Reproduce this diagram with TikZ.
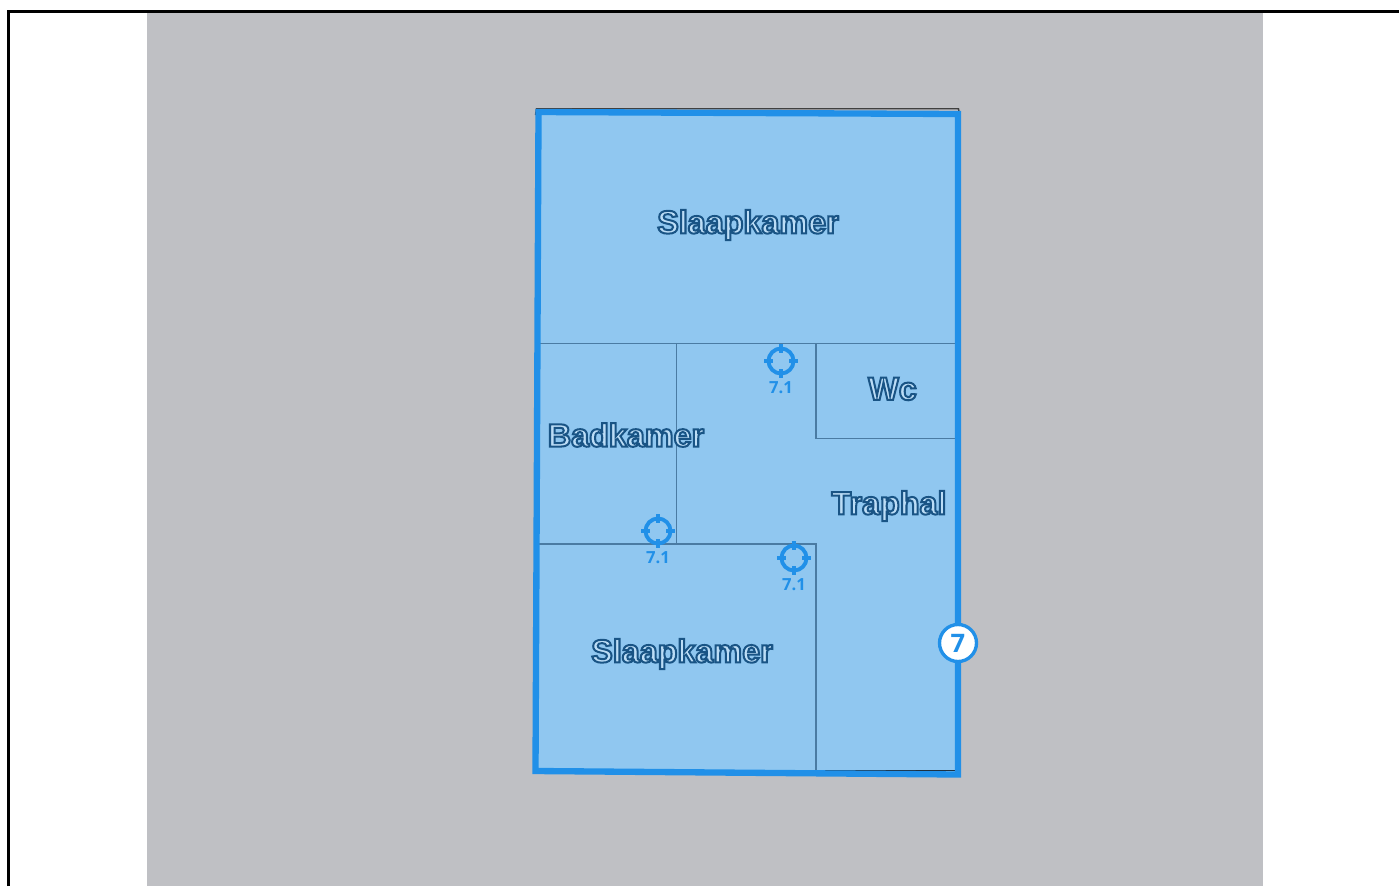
\documentclass[tikz,border=0pt]{standalone}
\usepackage{fontspec}
\setmainfont{Liberation Sans}
\newfontfamily\badgefont{Open Sans}
\usetikzlibrary{calc}
\definecolor{sheetgray}{HTML}{BFC0C4}
\definecolor{floorblue}{HTML}{90C7F0}
\definecolor{edgeblue}{HTML}{2190E8}
\definecolor{wallblue}{HTML}{4A7BA3}
\newcommand{\outlined}[1]{\special{pdf:code q 2 Tr 1.15 w 0.10 0.33 0.52 RG}#1\special{pdf:code Q}}
\tikzset{
  wall/.style={draw=wallblue,line width=0.65pt},
  roomlabel/.style={font=\fontsize{18.4}{20}\selectfont\bfseries,text=floorblue!60!white,inner sep=0pt},
  marklabel/.style={font=\badgefont\fontsize{9.5}{10}\selectfont\bfseries,text=edgeblue,inner sep=0pt}
}
\begin{document}
\begin{tikzpicture}[x=0.02cm,y=-0.02cm]
      \useasboundingbox (0,0) rectangle (1399,886);

      \fill[sheetgray] (147,12) rectangle (1263,886);
      \draw[black,line width=1.7pt] (8.5,886) -- (8.5,11.5) -- (1399,11.5);

      \draw[black!75,line width=0.8pt] (535.5,115) -- (536.5,108.7) -- (958.5,108.7) -- (959.5,115);
      \fill[floorblue] (538.5,111.5) -- (958,114) -- (958,774.5) -- (535.5,771) -- cycle;

      \draw[wall] (539,343.5) -- (956,343.5);
      \draw[wall] (676.5,343.5) -- (676.5,544);
      \draw[wall] (538,544) -- (816,544) -- (816,771);
      \draw[wall] (816,343.5) -- (816,438.5) -- (956,438.5);
      \draw[black!60!wallblue,line width=0.8pt] (816,770.5) -- (956,770.5);

      \draw[edgeblue,line width=3.6pt,line join=miter] (538.5,112) -- (958,114) -- (958,774.5) -- (535.5,771) -- cycle;

      \node[roomlabel] (topbed) at (748,225) {\outlined{Slaapkamer}};
      \node[roomlabel] (bath) at (626,435) {\outlined{Badkamer}};
      \node[roomlabel] (toilet) at (892.5,389) {\outlined{Wc}};
      \node[roomlabel] (hall) at (889,506) {\outlined{Traphal}};
      \node[roomlabel] (lowbed) at (682,654) {\outlined{Slaapkamer}};

      \foreach \name/\px/\py in {one/781/361,two/658/531,three/794/558} {
        \draw[edgeblue,line width=2.2pt] (\px,\py) circle (12.5);
        \draw[edgeblue,line width=2.2pt] (\px-17,\py) -- (\px-8,\py) (\px+8,\py) -- (\px+17,\py) (\px,\py-17) -- (\px,\py-8) (\px,\py+8) -- (\px,\py+17);
        \node[marklabel] (mark\name) at (\px,\py+26.5) {7.1};
      }

      \node[circle,draw=edgeblue,fill=white,line width=1.9pt,minimum size=37*0.02cm,inner sep=0pt,font=\badgefont\fontsize{14.5}{15}\selectfont\bfseries,text=edgeblue] (badge) at (958,643) {7};
    \end{tikzpicture}
\end{document}
